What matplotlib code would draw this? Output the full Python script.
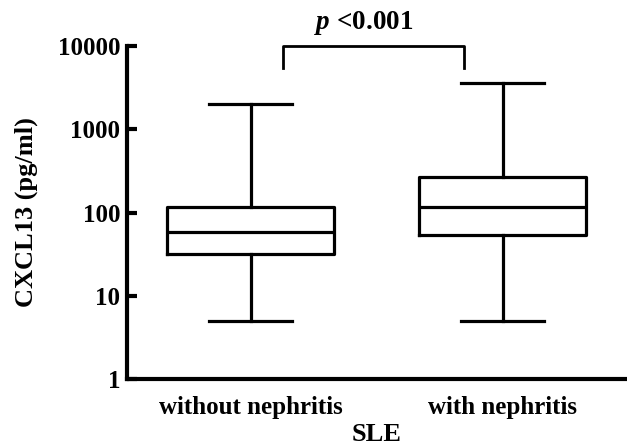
import matplotlib
matplotlib.use("Agg")
import matplotlib.pyplot as plt

# values (pg/ml)
groups = ["without nephritis", "with nephritis"]
whisker_low = [5, 5]
q1 = [32, 54]
median = [59, 115]
q3 = [115, 270]
whisker_high = [2000, 3550]
y_ticks = [1, 10, 100, 1000, 10000]
p_text = "<0.001"

plt.rcParams["font.family"] = ["Liberation Serif", "DejaVu Serif"]
plt.rcParams["font.weight"] = "bold"
plt.rcParams["mathtext.fontset"] = "custom"
plt.rcParams["mathtext.it"] = "Liberation Serif:italic:bold"
plt.rcParams["mathtext.rm"] = "Liberation Serif:bold"

fig = plt.figure(figsize=(6.27, 4.46), dpi=100)
ax = fig.add_axes([0.2026, 0.150, 0.796, 0.747])

stats = []
for i in range(len(groups)):
    stats.append(dict(med=median[i], q1=q1[i], q3=q3[i],
                      whislo=whisker_low[i], whishi=whisker_high[i],
                      fliers=[], label=groups[i]))

lw = 2.3
ax.bxp(stats, positions=[1, 2], widths=0.66, showfliers=False,
       boxprops=dict(color="black", linewidth=lw),
       medianprops=dict(color="black", linewidth=lw),
       whiskerprops=dict(color="black", linewidth=lw),
       capprops=dict(color="black", linewidth=lw))

ax.set_yscale("log")
ax.set_ylim(1, 10000)
ax.set_xlim(0.51, 2.49)
ax.set_yticks(y_ticks)
ax.set_yticklabels([str(t) for t in y_ticks])
ax.yaxis.set_minor_locator(matplotlib.ticker.NullLocator())
ax.tick_params(axis="y", direction="in", length=7, width=3, pad=5, labelsize=18)
ax.tick_params(axis="x", length=0, pad=12, labelsize=18)
ax.set_xticks([1, 2])
ax.set_xticklabels(groups)

ax.spines["top"].set_visible(False)
ax.spines["right"].set_visible(False)
ax.spines["left"].set_linewidth(3)
ax.spines["bottom"].set_linewidth(3)

ax.set_ylabel("CXCL13 (pg/ml)", fontsize=19, fontweight="bold", labelpad=14)
ax.set_xlabel("SLE", fontsize=19, fontweight="bold", labelpad=3)

# significance bracket
ax.plot([1.13, 1.13, 1.845, 1.845], [5400, 10000, 10000, 5400],
        color="black", linewidth=2, clip_on=False)
ax.text(1.45, 19000, r"$p$ " + p_text, ha="center", va="center",
        fontsize=19.5, fontweight="bold")

fig.savefig("out.png", dpi=100)
